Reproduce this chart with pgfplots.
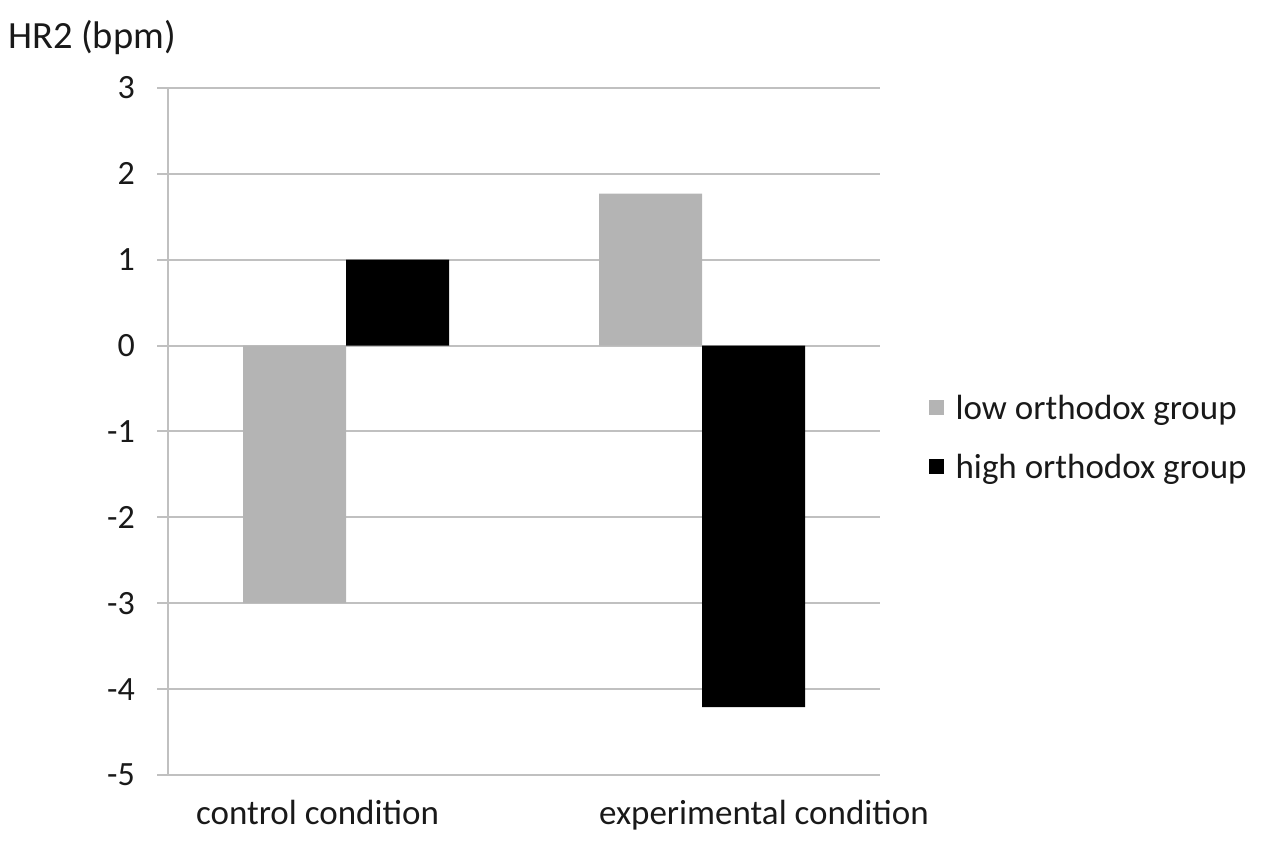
\documentclass[border=0pt]{standalone}
\usepackage{pgfplots}
\pgfplotsset{compat=1.18}
\usepackage{fontspec}
\setmainfont{Carlito}
\definecolor{bargray}{RGB}{180,180,180}
\definecolor{gridgray}{RGB}{192,192,192}
\definecolor{txt}{RGB}{25,25,25}
\begin{document}
\begin{tikzpicture}[x=1bp,y=1bp]
\useasboundingbox (0,0) rectangle (1267,842);
\begin{axis}[
  at={(168bp,67bp)}, anchor=south west, scale only axis,
  width=712bp, height=687bp,
  ybar=0pt, bar width=103bp,
  xmin=-0.5, xmax=1.5, ymin=-5, ymax=3,
  ytick={-5,-4,-3,-2,-1,0,1,2,3},
  xtick={-0.08,1.174},
  xticklabels={control condition, experimental condition},
  axis x line*=bottom, axis y line*=left,
  axis line style={-, draw=gridgray, line width=2bp},
  ymajorgrids, grid style={draw=gridgray, line width=2bp},
  tick align=outside, major tick length=11bp,
  ytick style={draw=gridgray, line width=2bp},
  xtick style={draw=none},
  /pgf/number format/assume math mode=true,
  yticklabel style={font=\fontsize{34bp}{40bp}\selectfont, text=txt, inner sep=0pt, anchor=east, xshift=-22bp},
  xticklabel style={font=\fontsize{35bp}{40bp}\selectfont, text=txt, inner sep=0pt, anchor=north, yshift=-14bp},
  ylabel={HR2 (bpm)},
  ylabel style={rotate=-90, at={(rel axis cs:-0.2247,1.0728)}, anchor=west, inner sep=0pt, font=\fontsize{38.5bp}{44bp}\selectfont, text=txt},
  legend style={at={(rel axis cs:1.068,0.556)}, anchor=north west, draw=none, fill=none,
    font=\fontsize{35bp}{40bp}\selectfont, text=txt, row sep=29bp, inner sep=0pt,
    /tikz/every odd column/.append style={column sep=10bp}},
  legend cell align=left,
  legend image code/.code={\fill[#1] (0bp,-7bp) rectangle (15bp,8bp);},
]
\addplot[draw=none, fill=bargray] coordinates {(0,-3.0) (1,1.77)};
\addplot[draw=none, fill=black] coordinates {(0,1.0) (1,-4.21)};
\legend{low orthodox group, high orthodox group}
\end{axis}
\end{tikzpicture}
\end{document}
